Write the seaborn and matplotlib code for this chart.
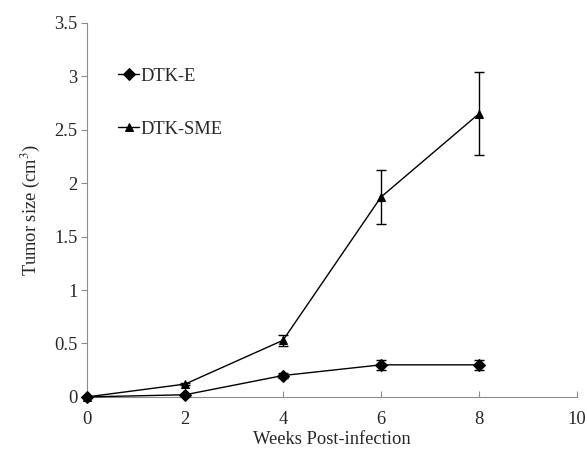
import pandas as pd
import matplotlib.pyplot as plt
import seaborn as sns

# data
weeks = [0, 2, 4, 6, 8]
dtk_e = [0.0, 0.02, 0.20, 0.30, 0.30]
dtk_e_err = [0.0, 0.01, 0.02, 0.05, 0.05]
dtk_sme = [0.0, 0.12, 0.53, 1.87, 2.65]
dtk_sme_err = [0.0, 0.01, 0.05, 0.25, 0.39]

df = pd.DataFrame({
    'Weeks': weeks * 2,
    'Size': dtk_e + dtk_sme,
    'Err': dtk_e_err + dtk_sme_err,
    'Group': ['DTK-E'] * 5 + ['DTK-SME'] * 5,
})

sns.set_style('ticks')
plt.rcParams['font.family'] = ['Liberation Serif', 'DejaVu Serif']
plt.rcParams['mathtext.fontset'] = 'stix'

fig = plt.figure(figsize=(5.85, 4.5), dpi=100)
ax = fig.add_axes([0.149, 0.118, 0.837, 0.831])

markers = {'DTK-E': 'D', 'DTK-SME': '^'}
sizes = {'DTK-E': 6, 'DTK-SME': 5.5}
for g, sub in df.groupby('Group'):
    ax.errorbar(sub['Weeks'], sub['Size'], yerr=sub['Err'], fmt='none',
                ecolor='black', elinewidth=1, capsize=3.5, capthick=1, zorder=2)
    sns.lineplot(data=sub, x='Weeks', y='Size', color='black', marker=markers[g],
                 markersize=sizes[g], markeredgecolor='black', linewidth=1,
                 label=g, ax=ax, clip_on=False, zorder=3)

ax.set_xlim(0, 10)
ax.set_ylim(0, 3.5)
ax.set_xticks([0, 2, 4, 6, 8, 10])
ax.set_yticks([0, 0.5, 1, 1.5, 2, 2.5, 3, 3.5])
ax.set_yticklabels(['0', '0.5', '1', '1.5', '2', '2.5', '3', '3.5'])
ax.set_xlabel('Weeks Post-infection', fontsize=13.3, labelpad=2)
ax.set_ylabel('Tumor size (cm$^3$)', fontsize=13.3, labelpad=8)

for s in ['top', 'right']:
    ax.spines[s].set_visible(False)
for s in ['left', 'bottom']:
    ax.spines[s].set_color('#8c8c8c')
    ax.spines[s].set_linewidth(0.8)
ax.tick_params(axis='x', direction='in', length=4, color='#8c8c8c', labelsize=13.3, pad=10)
ax.tick_params(axis='y', direction='out', length=4, color='#8c8c8c', labelsize=13.3, pad=3)

ax.legend(loc='upper left', bbox_to_anchor=(0.03, 0.925), frameon=False, fontsize=13.3,
          handlelength=1.1, handletextpad=0.1, labelspacing=1.95)

plt.savefig('out.png')
